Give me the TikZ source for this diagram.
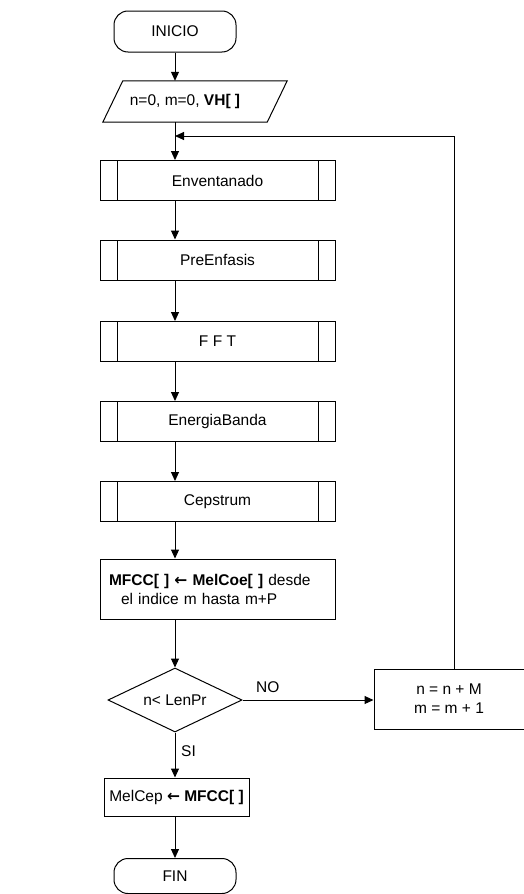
\documentclass[tikz,border=0pt]{standalone}
\usepackage{fontspec}
\setmainfont{Liberation Sans}
\newfontfamily\arrowfont{DejaVu Sans}
\newcommand{\getsarrow}{{\arrowfont\bfseries ←}}
\usetikzlibrary{arrows.meta,shapes.geometric}

\begin{document}
\begin{tikzpicture}[x=1pt,y=-1pt,
  every node/.style={font=\fontsize{15.5}{19}\selectfont, inner sep=2pt},
  line/.style={line width=1pt, black},
  flow/.style={line, -{Triangle[length=9pt,width=8pt]}},
  term/.style={line, draw, rounded corners=14pt, minimum width=122pt, minimum height=41pt},
  iobox/.style={minimum width=164pt, minimum height=41pt},
  stepbox/.style={line, draw, rectangle, minimum width=235pt, minimum height=40pt,
    path picture={
      \draw[line] ([xshift=17pt]path picture bounding box.north west) -- ([xshift=17pt]path picture bounding box.south west);
      \draw[line] ([xshift=-17pt]path picture bounding box.north east) -- ([xshift=-17pt]path picture bounding box.south east);
    }},
  plain/.style={line, draw, rectangle, align=center},
  decis/.style={line, draw, diamond, aspect=2.1, minimum width=134pt, minimum height=64pt, inner sep=0pt},
  lbl/.style={inner sep=0pt}
]
\useasboundingbox (0,0) rectangle (523,894);

% start and input
\node[term] (inicio) at (175,31.5) {INICIO};
\node[iobox] (datos) at (195,101.5) {};
\draw[line] ([xshift=10pt]datos.north west) -- ([xshift=10pt]datos.north east)
  -- ([xshift=-10pt]datos.south east) -- ([xshift=-10pt]datos.south west) -- cycle;
\node at (185,101.5) {n=0, m=0, \textbf{VH[ ]}};

% processing chain
\node[stepbox] (vent) at (217.5,180.5) {Enventanado};
\node[stepbox] (pre)  at (217.5,260) {PreEnfasis};
\node[stepbox] (fft)  at (217.5,341.5) {F F T};
\node[stepbox] (eb)   at (217.5,421.5) {EnergiaBanda};
\node[stepbox] (cep)  at (217.5,501.5) {Cepstrum};
\node[line, draw, rectangle, align=left, text width=217pt, inner xsep=9pt,
      minimum height=60pt] (mfcc) at (217.5,589)
  {\textbf{MFCC[ ]} \getsarrow{} \textbf{MelCoe[ ]} desde\\\hspace*{12pt}el indice m hasta m+P};

% decision and loop update
\node[decis] (cond) at (175,700) {n< LenPr};
\node[plain, minimum width=150pt, minimum height=60pt] (upd) at (449,699)
  {n = n + M\\m = m + 1};

% end
\node[plain, minimum width=145pt, minimum height=38pt] (melcep) at (176.5,797)
  {MelCep \getsarrow{} \textbf{MFCC[ ]}};
\node[term, minimum height=35pt] (fin) at (175,876) {FIN};

% connectors
\coordinate (loopin) at (175,136);
\draw[flow] (inicio.south) -- (inicio.south |- datos.north);
\draw[flow] (inicio.south |- datos.south) -- (inicio.south |- vent.north);
\draw[flow] (inicio.south |- vent.south) -- (inicio.south |- pre.north);
\draw[flow] (inicio.south |- pre.south) -- (inicio.south |- fft.north);
\draw[flow] (inicio.south |- fft.south) -- (inicio.south |- eb.north);
\draw[flow] (inicio.south |- eb.south) -- (inicio.south |- cep.north);
\draw[flow] (inicio.south |- cep.south) -- (inicio.south |- mfcc.north);
\draw[flow] (inicio.south |- mfcc.south) -- (cond.north);
\draw[flow] (cond.east) -- (cond.east -| upd.west);
\draw[flow] ([xshift=5pt]upd.north) |- (loopin);
\draw[flow] (cond.south) -- (cond.south |- melcep.north);
\draw[flow] (cond.south |- melcep.south) -- (fin.north);

% branch labels
\node[lbl, anchor=south west] at (256,693) {NO};
\node[lbl, anchor=west] at (181,751) {SI};
\end{tikzpicture}
\end{document}
